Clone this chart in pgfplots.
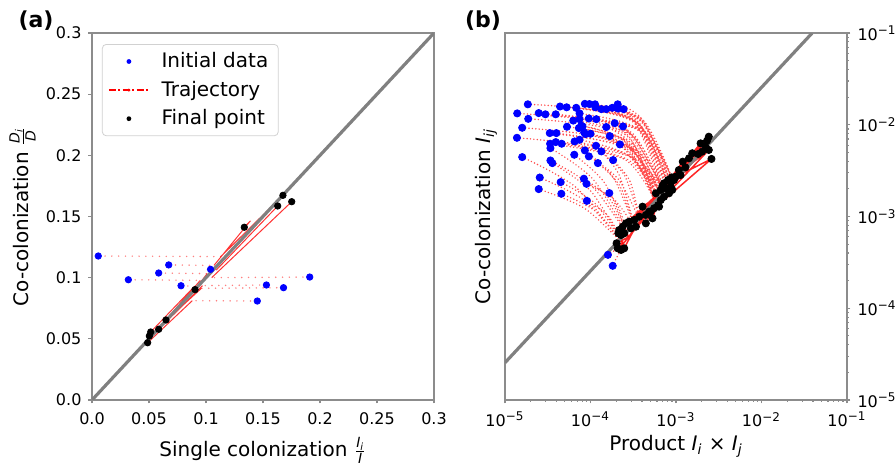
\documentclass[border=0pt]{standalone}
\usepackage{fontspec}
\setmainfont{DejaVu Sans}
\usepackage{amsmath}
\usepackage{pgfplots}
\pgfplotsset{compat=1.18}
\definecolor{spine}{gray}{0.55}
\definecolor{diag}{gray}{0.5}
\begin{document}
\begin{tikzpicture}[font=\fontsize{10}{12}\selectfont]
\pgfplotsset{
  myax/.style={
    scale only axis, width=171pt, height=183.5pt,
    axis line style={spine, line width=0.6pt},
    tick style={spine, line width=0.6pt},
    tick align=outside, major tick length=1.75pt, minor tick length=1pt,
    tick label style={font=\fontsize{8}{9.6}\selectfont, text=black},
    xticklabel style={yshift=-0.8pt},
    /pgf/number format/assume math mode=true,
    unbounded coords=jump,
    label style={font=\fontsize{10}{12}\selectfont},
  },
  dots/.style={red, opacity=0.5, line width=0.8pt, line cap=round, dash pattern=on 0pt off 3.4pt},
  dotsb/.style={red, opacity=0.7, line width=0.8pt, line cap=round, dash pattern=on 0pt off 1.7pt},
  solidr/.style={red, opacity=0.8, line width=0.5pt},
  solidb/.style={red, opacity=0.85, line width=0.75pt},
}
% ---------------- panel (a)
\begin{axis}[myax, at={(46pt,32pt)}, anchor=south west,
  xmin=0, xmax=0.3, ymin=0, ymax=0.3,
  xtick={0,0.05,0.1,0.15,0.2,0.25,0.3}, xticklabels={0.0,0.05,0.1,0.15,0.2,0.25,0.3},
  ytick={0,0.05,0.1,0.15,0.2,0.25,0.3}, yticklabels={0.0,0.05,0.1,0.15,0.2,0.25,0.3},
  xtick pos=left, ytick pos=left,
  xlabel={Single colonization $\frac{\textit{I}_{\textit{i}}}{\textit{I}}$},
  ylabel={Co-colonization $\frac{\textit{D}_{\textit{i}}}{\textit{D}}$},
  xlabel style={at={(axis description cs:0.5,-0.1376)}, anchor=center},
  ylabel style={at={(axis description cs:-0.203,0.5)}, anchor=center},
  legend style={at={(axis description cs:0.029,0.970)}, anchor=north west,
    draw=black!18, rounded corners=2pt, fill=white,
    font=\fontsize{10}{12}\selectfont, inner xsep=3pt, inner ysep=2pt, row sep=1.2pt,
    column sep=4pt},
  legend cell align=left,
]
\addlegendimage{legend image code/.code={\path[draw=none, fill=none] (0pt,-1pt) rectangle (20pt,1pt); \fill[blue, draw=none] (10pt,0pt) circle (1.2pt);}}
\addlegendentry{Initial data}
\addlegendimage{legend image code/.code={\path[draw=none, fill=none] (0pt,-1pt) rectangle (20pt,1pt); \draw[red, fill=none, line width=0.6pt, dash pattern=on 3.5pt off 1.2pt on 1pt off 1.2pt] (0pt,0pt) -- (20pt,0pt); \fill[red, draw=none] (10pt,0pt) circle (0.8pt);}}
\addlegendentry{Trajectory}
\addlegendimage{legend image code/.code={\path[draw=none, fill=none] (0pt,-1pt) rectangle (20pt,1pt); \fill[black, draw=none] (10pt,0pt) circle (1.2pt);}}
\addlegendentry{Final point}

\addplot[dots, forget plot] table[row sep=\\] {
x y\\
0.0055 0.1177\\ 0.113 0.1172\\ nan nan\\
0.191 0.1005\\ 0.105 0.1000\\ nan nan\\
0.104 0.1068\\ 0.109 0.1062\\ nan nan\\
0.0673 0.1104\\ 0.107 0.1100\\ nan nan\\
0.0585 0.1038\\ 0.101 0.1033\\ nan nan\\
0.0319 0.0983\\ 0.095 0.0978\\ nan nan\\
0.153 0.094\\ 0.097 0.0935\\ nan nan\\
0.0781 0.0934\\ 0.090 0.0930\\ nan nan\\
0.168 0.0918\\ 0.096 0.0913\\ nan nan\\
0.145 0.0809\\ 0.088 0.0812\\
};
\addplot[solidr, forget plot] table[row sep=\\] {
x y\\
0.113 0.1172\\ 0.1675 0.1673\\ nan nan\\
0.105 0.1000\\ 0.1752 0.1621\\ nan nan\\
0.109 0.1062\\ 0.1629 0.1586\\ nan nan\\
0.107 0.1100\\ 0.139 0.1465\\ 0.1336 0.1412\\ nan nan\\
0.101 0.1033\\ 0.0904 0.0902\\ nan nan\\
0.095 0.0978\\ 0.0649 0.0654\\ nan nan\\
0.097 0.0935\\ 0.0585 0.0578\\ nan nan\\
0.090 0.0930\\ 0.0515 0.0556\\ nan nan\\
0.096 0.0913\\ 0.0503 0.0523\\ nan nan\\
0.088 0.0812\\ 0.0488 0.0468\\
};
\addplot[diag, line width=1.6pt, forget plot] coordinates {(0,0) (0.3,0.3)};
\addplot[only marks, mark=*, mark size=1.6pt, mark options={blue, fill=blue}, forget plot] table[row sep=\\] {
x y\\
0.0055 0.1177\\ 0.0673 0.1104\\ 0.104 0.1068\\ 0.0585 0.1038\\ 0.191 0.1005\\
0.0319 0.0983\\ 0.153 0.094\\ 0.0781 0.0934\\ 0.168 0.0918\\ 0.145 0.0809\\
};
\addplot[only marks, mark=*, mark size=1.6pt, mark options={black, fill=black}, forget plot] table[row sep=\\] {
x y\\
0.0488 0.0468\\ 0.0503 0.0523\\ 0.0515 0.0556\\ 0.0585 0.0578\\ 0.0649 0.0654\\
0.0904 0.0902\\ 0.1336 0.1412\\ 0.1629 0.1586\\ 0.1675 0.1673\\ 0.1752 0.1621\\
};
\end{axis}
% ---------------- panel (b)
\begin{axis}[myax, at={(252.5pt,32pt)}, anchor=south west,
  xmode=log, ymode=log, xmin=1e-5, xmax=1e-1, ymin=1e-5, ymax=1e-1,
  xtick={1e-5,1e-4,1e-3,1e-2,1e-1},
  xticklabels={10\textsuperscript{−5},10\textsuperscript{−4},10\textsuperscript{−3},10\textsuperscript{−2},10\textsuperscript{−1}},
  ytick={1e-5,1e-4,1e-3,1e-2,1e-1},
  yticklabels={10\textsuperscript{−5},10\textsuperscript{−4},10\textsuperscript{−3},10\textsuperscript{−2},10\textsuperscript{−1}},
  xtick pos=left, ytick pos=right, yticklabel pos=right,
  xlabel={Product \textit{I}\textsubscript{\textit{i}} × \textit{I}\textsubscript{\textit{j}}},
  ylabel={Co-colonization \textit{I}\textsubscript{\textit{ij}}},
  xlabel style={at={(axis description cs:0.5,-0.127)}, anchor=center},
  ylabel style={at={(axis description cs:-0.0552,0.5)}, anchor=center},
]
% dotted arcs: initial -> bend -> arrival on the manifold
\addplot[dotsb, smooth, forget plot] table[row sep=\\] {
x y\\
1.85e-5 1.67e-2\\ 3.15e-4 1.14e-2\\ 7.0e-4 2.0e-3\\ nan nan\\
1.39e-5 1.33e-2\\ 3.4e-4 9.0e-3\\ 7.5e-4 2.2e-3\\ nan nan\\
2.48e-5 1.34e-2\\ 3.6e-4 9.1e-3\\ 8.0e-4 2.3e-3\\ nan nan\\
2.97e-5 1.30e-2\\ 3.8e-4 8.8e-3\\ 8.5e-4 2.45e-3\\ nan nan\\
3.92e-5 1.30e-2\\ 4.05e-4 8.8e-3\\ 9.0e-4 2.6e-3\\ nan nan\\
4.40e-5 1.58e-2\\ 3.15e-4 1.07e-2\\ 7.0e-4 2.0e-3\\ nan nan\\
5.26e-5 1.55e-2\\ 3.4e-4 1.05e-2\\ 7.5e-4 2.2e-3\\ nan nan\\
6.81e-5 1.53e-2\\ 3.6e-4 1.04e-2\\ 8.0e-4 2.3e-3\\ nan nan\\
8.59e-5 1.69e-2\\ 3.8e-4 1.15e-2\\ 8.5e-4 2.45e-3\\ nan nan\\
9.73e-5 1.68e-2\\ 4.05e-4 1.14e-2\\ 9.0e-4 2.6e-3\\ nan nan\\
1.13e-4 1.67e-2\\ 3.15e-4 1.14e-2\\ 7.0e-4 2.0e-3\\ nan nan\\
1.14e-4 1.55e-2\\ 3.4e-4 1.05e-2\\ 7.5e-4 2.2e-3\\ nan nan\\
1.34e-4 1.48e-2\\ 3.6e-4 1.0e-2\\ 8.0e-4 2.3e-3\\ nan nan\\
1.53e-4 1.48e-2\\ 3.8e-4 1.0e-2\\ 8.5e-4 2.45e-3\\ nan nan\\
1.80e-4 1.53e-2\\ 4.05e-4 1.04e-2\\ 9.0e-4 2.6e-3\\ nan nan\\
2.08e-4 1.67e-2\\ 4.05e-4 1.14e-2\\ 9.0e-4 2.6e-3\\ nan nan\\
2.10e-4 1.50e-2\\ 3.8e-4 1.02e-2\\ 8.5e-4 2.45e-3\\ nan nan\\
2.44e-4 1.48e-2\\ 4.3e-4 1.0e-2\\ 9.0e-4 2.6e-3\\ nan nan\\
7.45e-5 1.33e-2\\ 3.6e-4 9.0e-3\\ 8.0e-4 2.3e-3\\ nan nan\\
9.57e-5 1.17e-2\\ 3.15e-4 7.96e-3\\ 7.0e-4 2.0e-3\\ nan nan\\
1.87e-5 1.16e-2\\ 2.5e-4 7.9e-3\\ 5.5e-4 1.55e-3\\ nan nan\\
7.45e-5 1.15e-2\\ 2.7e-4 7.8e-3\\ 6.0e-4 1.7e-3\\ nan nan\\
1.17e-4 1.15e-2\\ 2.9e-4 7.8e-3\\ 6.5e-4 1.85e-3\\ nan nan\\
6.29e-5 1.11e-2\\ 3.15e-4 7.55e-3\\ 7.0e-4 2.0e-3\\ nan nan\\
1.92e-4 1.04e-2\\ 3.3e-4 7.1e-3\\ 7.0e-4 2.0e-3\\ nan nan\\
7.79e-5 9.76e-3\\ 2.5e-4 6.6e-3\\ 5.5e-4 1.55e-3\\ nan nan\\
8.07e-5 9.59e-3\\ 2.7e-4 6.5e-3\\ 6.0e-4 1.7e-3\\ nan nan\\
2.40e-4 9.59e-3\\ 3.5e-4 6.5e-3\\ 7.0e-4 2.0e-3\\ nan nan\\
5.31e-5 9.51e-3\\ 2.9e-4 6.5e-3\\ 6.5e-4 1.85e-3\\ nan nan\\
1.53e-4 9.44e-3\\ 2.9e-4 6.4e-3\\ 6.5e-4 1.85e-3\\ nan nan\\
1.59e-5 9.27e-3\\ 2.5e-4 6.3e-3\\ 5.5e-4 1.55e-3\\ nan nan\\
7.31e-5 9.20e-3\\ 2.7e-4 6.3e-3\\ 6.0e-4 1.7e-3\\ nan nan\\
8.44e-5 8.24e-3\\ 2.9e-4 5.6e-3\\ 6.5e-4 1.85e-3\\ nan nan\\
3.34e-5 8.11e-3\\ 3.15e-4 5.5e-3\\ 7.0e-4 2.0e-3\\ nan nan\\
3.99e-5 8.11e-3\\ 2.5e-4 5.5e-3\\ 5.5e-4 1.55e-3\\ nan nan\\
1.00e-4 7.98e-3\\ 2.7e-4 5.4e-3\\ 6.0e-4 1.7e-3\\ nan nan\\
8.75e-5 7.91e-3\\ 2.9e-4 5.4e-3\\ 6.5e-4 1.85e-3\\ nan nan\\
1.68e-4 7.52e-3\\ 3.15e-4 5.1e-3\\ 7.0e-4 2.0e-3\\ nan nan\\
1.38e-5 7.21e-3\\ 2.5e-4 4.9e-3\\ 5.5e-4 1.55e-3\\ nan nan\\
7.45e-5 6.86e-3\\ 2.7e-4 4.7e-3\\ 6.0e-4 1.7e-3\\ nan nan\\
6.52e-5 6.58e-3\\ 2.9e-4 4.5e-3\\ 6.5e-4 1.85e-3\\ nan nan\\
3.92e-5 6.47e-3\\ 3.15e-4 4.4e-3\\ 7.0e-4 2.0e-3\\ nan nan\\
3.37e-5 6.21e-3\\ 2.5e-4 4.2e-3\\ 5.5e-4 1.55e-3\\ nan nan\\
4.60e-5 6.21e-3\\ 2.7e-4 4.2e-3\\ 6.0e-4 1.7e-3\\ nan nan\\
2.21e-4 6.10e-3\\ 3.2e-4 4.15e-3\\ 6.5e-4 1.85e-3\\ nan nan\\
1.16e-4 5.90e-3\\ 2.15e-4 2.87e-3\\ 3.3e-4 7.5e-4\\ nan nan\\
1.34e-4 5.12e-3\\ 2.5e-4 2.8e-3\\ 3.8e-4 9.0e-4\\ nan nan\\
3.40e-5 5.56e-3\\ 1.07e-4 2.55e-3\\ 2.8e-4 6.0e-4\\ nan nan\\
8.59e-5 5.25e-3\\ 1.85e-4 2.65e-3\\ 3.3e-4 7.5e-4\\ nan nan\\
6.46e-5 4.71e-3\\ 1.48e-4 2.29e-3\\ 2.8e-4 6.0e-4\\ nan nan\\
9.57e-5 4.52e-3\\ 2.1e-4 2.57e-3\\ 3.8e-4 9.0e-4\\ nan nan\\
1.59e-5 4.44e-3\\ 6.8e-5 2.07e-3\\ 2.4e-4 5.0e-4\\ nan nan\\
1.84e-4 4.12e-3\\ 2.9e-4 2.42e-3\\ 3.8e-4 9.0e-4\\ nan nan\\
3.40e-5 4.08e-3\\ 1.07e-4 2.08e-3\\ 2.8e-4 6.0e-4\\ nan nan\\
3.58e-5 3.82e-3\\ 1.02e-4 1.87e-3\\ 2.4e-4 5.0e-4\\ nan nan\\
1.22e-4 3.82e-3\\ 2.2e-4 2.16e-3\\ 3.3e-4 7.5e-4\\ nan nan\\
2.55e-5 2.66e-3\\ 8.6e-5 1.48e-3\\ 2.4e-4 5.0e-4\\ nan nan\\
8.37e-5 2.58e-3\\ 1.68e-4 1.55e-3\\ 2.8e-4 6.0e-4\\ nan nan\\
4.48e-5 2.37e-3\\ 1.14e-4 1.38e-3\\ 2.4e-4 5.0e-4\\ nan nan\\
8.98e-5 2.27e-3\\ 1.89e-4 1.54e-3\\ 3.3e-4 7.5e-4\\ nan nan\\
2.48e-5 1.99e-3\\ 8.5e-5 1.23e-3\\ 2.4e-4 5.0e-4\\ nan nan\\
1.66e-4 1.80e-3\\ 2.16e-4 1.22e-3\\ 2.8e-4 6.0e-4\\ nan nan\\
4.56e-5 1.77e-3\\ 1.15e-4 1.14e-3\\ 2.4e-4 5.0e-4\\ nan nan\\
9.06e-5 1.48e-3\\ 1.62e-4 1.01e-3\\ 2.4e-4 5.0e-4\\ nan nan\\
1.60e-4 3.82e-4\\ 1.8e-4 4.1e-4\\ 2.08e-4 4.50e-4\\ nan nan\\
1.82e-4 2.90e-4\\ 2.0e-4 3.5e-4\\ 2.28e-4 4.32e-4\\
};
% solid: sliding along the manifold to the final point
\addplot[solidb, forget plot] table[row sep=\\] {
x y\\
7.0e-4 2.0e-3\\ 2.42e-3 7.41e-3\\ nan nan\\
7.5e-4 2.2e-3\\ 2.31e-3 6.70e-3\\ nan nan\\
8.0e-4 2.3e-3\\ 1.94e-3 6.27e-3\\ nan nan\\
8.5e-4 2.45e-3\\ 2.21e-3 5.77e-3\\ nan nan\\
9.0e-4 2.6e-3\\ 2.42e-3 5.31e-3\\ nan nan\\
7.0e-4 2.0e-3\\ 2.02e-3 5.09e-3\\ nan nan\\
7.5e-4 2.2e-3\\ 1.55e-3 4.89e-3\\ nan nan\\
8.0e-4 2.3e-3\\ 1.82e-3 4.80e-3\\ nan nan\\
8.5e-4 2.45e-3\\ 1.42e-3 4.31e-3\\ nan nan\\
9.0e-4 2.6e-3\\ 2.60e-3 4.24e-3\\ nan nan\\
7.0e-4 2.0e-3\\ 1.20e-3 3.96e-3\\ nan nan\\
7.5e-4 2.2e-3\\ 1.29e-3 3.43e-3\\ nan nan\\
8.0e-4 2.3e-3\\ 1.08e-3 3.21e-3\\ nan nan\\
8.5e-4 2.45e-3\\ 1.13e-3 2.83e-3\\ nan nan\\
9.0e-4 2.6e-3\\ 9.91e-4 2.72e-3\\ nan nan\\
9.0e-4 2.6e-3\\ 8.91e-4 2.67e-3\\ nan nan\\
8.5e-4 2.45e-3\\ 8.07e-4 2.50e-3\\ nan nan\\
9.0e-4 2.6e-3\\ 9.48e-4 2.50e-3\\ nan nan\\
8.0e-4 2.3e-3\\ 8.67e-4 2.40e-3\\ nan nan\\
7.0e-4 2.0e-3\\ 7.24e-4 2.30e-3\\ nan nan\\
5.5e-4 1.55e-3\\ 6.93e-4 2.15e-3\\ nan nan\\
6.0e-4 1.7e-3\\ 8.67e-4 2.11e-3\\ nan nan\\
6.5e-4 1.85e-3\\ 7.59e-4 2.03e-3\\ nan nan\\
7.0e-4 2.0e-3\\ 9.05e-4 1.95e-3\\ nan nan\\
7.0e-4 2.0e-3\\ 6.64e-4 1.95e-3\\ nan nan\\
5.5e-4 1.55e-3\\ 8.30e-4 1.79e-3\\ nan nan\\
6.0e-4 1.7e-3\\ 5.81e-4 1.79e-3\\ nan nan\\
7.0e-4 2.0e-3\\ 7.24e-4 1.64e-3\\ nan nan\\
6.5e-4 1.85e-3\\ 6.64e-4 1.51e-3\\ nan nan\\
6.5e-4 1.85e-3\\ 6.18e-4 1.33e-3\\ nan nan\\
5.5e-4 1.55e-3\\ 4.06e-4 1.28e-3\\ nan nan\\
6.0e-4 1.7e-3\\ 6.34e-4 1.28e-3\\ nan nan\\
6.5e-4 1.85e-3\\ 5.55e-4 1.23e-3\\ nan nan\\
7.0e-4 2.0e-3\\ 5.07e-4 1.13e-3\\ nan nan\\
5.5e-4 1.55e-3\\ 4.85e-4 1.13e-3\\ nan nan\\
6.0e-4 1.7e-3\\ 4.44e-4 1.04e-3\\ nan nan\\
6.5e-4 1.85e-3\\ 3.72e-4 9.95e-4\\ nan nan\\
7.0e-4 2.0e-3\\ 5.31e-4 9.55e-4\\ nan nan\\
5.5e-4 1.55e-3\\ 3.25e-4 9.16e-4\\ nan nan\\
6.0e-4 1.7e-3\\ 2.84e-4 8.79e-4\\ nan nan\\
6.5e-4 1.85e-3\\ 2.60e-4 8.43e-4\\ nan nan\\
7.0e-4 2.0e-3\\ 4.44e-4 8.43e-4\\ nan nan\\
5.5e-4 1.55e-3\\ 2.38e-4 7.74e-4\\ nan nan\\
6.0e-4 1.7e-3\\ 3.40e-4 7.74e-4\\ nan nan\\
6.5e-4 1.85e-3\\ 2.97e-4 7.43e-4\\ nan nan\\
3.3e-4 7.5e-4\\ 2.42e-3 5.31e-3\\ nan nan\\
3.8e-4 9.0e-4\\ 2.60e-3 4.24e-3\\ nan nan\\
2.8e-4 6.0e-4\\ 2.21e-3 5.77e-3\\ nan nan\\
3.3e-4 7.5e-4\\ 2.02e-3 5.09e-3\\ nan nan\\
2.8e-4 6.0e-4\\ 1.82e-3 4.80e-3\\ nan nan\\
3.8e-4 9.0e-4\\ 1.55e-3 4.89e-3\\ nan nan\\
2.4e-4 5.0e-4\\ 1.42e-3 4.31e-3\\ nan nan\\
3.8e-4 9.0e-4\\ 1.29e-3 3.43e-3\\ nan nan\\
2.8e-4 6.0e-4\\ 2.17e-4 7.13e-4\\ nan nan\\
2.4e-4 5.0e-4\\ 2.12e-4 6.56e-4\\ nan nan\\
3.3e-4 7.5e-4\\ 2.48e-4 6.56e-4\\ nan nan\\
2.4e-4 5.0e-4\\ 2.28e-4 6.28e-4\\ nan nan\\
2.8e-4 6.0e-4\\ 2.02e-4 5.11e-4\\ nan nan\\
2.4e-4 5.0e-4\\ 2.08e-4 4.50e-4\\ nan nan\\
3.3e-4 7.5e-4\\ 2.48e-4 4.50e-4\\ nan nan\\
2.4e-4 5.0e-4\\ 2.28e-4 4.32e-4\\ nan nan\\
2.8e-4 6.0e-4\\ 2.17e-4 7.13e-4\\ nan nan\\
2.4e-4 5.0e-4\\ 2.02e-4 5.11e-4\\ nan nan\\
2.4e-4 5.0e-4\\ 2.08e-4 4.50e-4\\
};
\addplot[diag, line width=1.6pt, forget plot] coordinates {(1e-5,2.55e-5) (3.92e-2,1e-1)};
\addplot[only marks, mark=*, mark size=1.8pt, mark options={blue, fill=blue}, forget plot] table[row sep=\\] {
x y\\
1.85e-5 1.67e-2\\ 1.39e-5 1.33e-2\\ 1.87e-5 1.16e-2\\ 1.59e-5 9.27e-3\\ 1.38e-5 7.21e-3\\
1.59e-5 4.44e-3\\ 2.48e-5 1.34e-2\\ 2.97e-5 1.30e-2\\ 3.92e-5 1.30e-2\\ 4.40e-5 1.58e-2\\
5.26e-5 1.55e-2\\ 6.81e-5 1.53e-2\\ 8.59e-5 1.69e-2\\ 9.73e-5 1.68e-2\\ 1.13e-4 1.67e-2\\
1.14e-4 1.55e-2\\ 1.34e-4 1.48e-2\\ 1.53e-4 1.48e-2\\ 1.80e-4 1.53e-2\\ 2.08e-4 1.67e-2\\
2.10e-4 1.50e-2\\ 2.44e-4 1.48e-2\\ 5.31e-5 9.51e-3\\ 6.29e-5 1.11e-2\\ 7.45e-5 1.33e-2\\
7.45e-5 1.15e-2\\ 8.07e-5 9.59e-3\\ 8.44e-5 8.24e-3\\ 9.57e-5 1.17e-2\\ 1.17e-4 1.15e-2\\
3.34e-5 8.11e-3\\ 3.99e-5 8.11e-3\\ 3.37e-5 6.21e-3\\ 3.92e-5 6.47e-3\\ 4.60e-5 6.21e-3\\
6.52e-5 6.58e-3\\ 7.31e-5 9.20e-3\\ 8.75e-5 7.91e-3\\ 7.79e-5 9.76e-3\\ 1.16e-4 5.90e-3\\
1.68e-4 7.52e-3\\ 2.40e-4 9.59e-3\\ 2.21e-4 6.10e-3\\ 8.59e-5 5.25e-3\\ 9.57e-5 4.52e-3\\
6.46e-5 4.71e-3\\ 1.34e-4 5.12e-3\\ 3.40e-5 4.08e-3\\ 3.58e-5 3.82e-3\\ 1.22e-4 3.82e-3\\
1.84e-4 4.12e-3\\ 2.55e-5 2.66e-3\\ 2.48e-5 1.99e-3\\ 4.48e-5 2.37e-3\\ 4.56e-5 1.77e-3\\
8.37e-5 2.58e-3\\ 8.98e-5 2.27e-3\\ 9.06e-5 1.48e-3\\ 1.66e-4 1.80e-3\\ 1.60e-4 3.82e-4\\
1.82e-4 2.90e-4\\ 1.00e-4 7.98e-3\\ 1.53e-4 9.44e-3\\ 1.92e-4 1.04e-2\\ 7.45e-5 6.86e-3\\
3.40e-5 5.56e-3\\
};
\addplot[only marks, mark=*, mark size=1.8pt, mark options={black, fill=black}, forget plot] table[row sep=\\] {
x y\\
2.42e-3 7.41e-3\\ 2.31e-3 6.70e-3\\ 1.94e-3 6.27e-3\\ 2.21e-3 5.77e-3\\ 2.42e-3 5.31e-3\\
2.02e-3 5.09e-3\\ 1.55e-3 4.89e-3\\ 1.82e-3 4.80e-3\\ 1.42e-3 4.31e-3\\ 2.60e-3 4.24e-3\\
1.20e-3 3.96e-3\\ 1.29e-3 3.43e-3\\ 1.08e-3 3.21e-3\\ 1.13e-3 2.83e-3\\ 9.91e-4 2.72e-3\\
8.91e-4 2.67e-3\\ 8.07e-4 2.50e-3\\ 9.48e-4 2.50e-3\\ 8.67e-4 2.40e-3\\ 7.24e-4 2.30e-3\\
6.93e-4 2.15e-3\\ 8.67e-4 2.11e-3\\ 7.59e-4 2.03e-3\\ 9.05e-4 1.95e-3\\ 6.64e-4 1.95e-3\\
8.30e-4 1.79e-3\\ 5.81e-4 1.79e-3\\ 7.24e-4 1.64e-3\\ 6.64e-4 1.51e-3\\ 6.18e-4 1.33e-3\\
4.06e-4 1.28e-3\\ 6.34e-4 1.28e-3\\ 5.55e-4 1.23e-3\\ 5.07e-4 1.13e-3\\ 4.85e-4 1.13e-3\\
4.44e-4 1.04e-3\\ 3.72e-4 9.95e-4\\ 5.31e-4 9.55e-4\\ 3.25e-4 9.16e-4\\ 2.84e-4 8.79e-4\\
2.60e-4 8.43e-4\\ 4.44e-4 8.43e-4\\ 2.38e-4 7.74e-4\\ 3.40e-4 7.74e-4\\ 2.97e-4 7.43e-4\\
2.17e-4 7.13e-4\\ 2.12e-4 6.56e-4\\ 2.48e-4 6.56e-4\\ 2.28e-4 6.28e-4\\ 2.02e-4 5.11e-4\\
2.08e-4 4.50e-4\\ 2.48e-4 4.50e-4\\ 2.28e-4 4.32e-4\\
};
\end{axis}
\node[font=\bfseries\fontsize{11}{13}\selectfont] at (18pt,221.5pt) {(a)};
\node[font=\bfseries\fontsize{11}{13}\selectfont] at (241.5pt,221.5pt) {(b)};
\pgfresetboundingbox
\useasboundingbox (0pt,0pt) rectangle (448pt,232pt);
\end{tikzpicture}
\end{document}
